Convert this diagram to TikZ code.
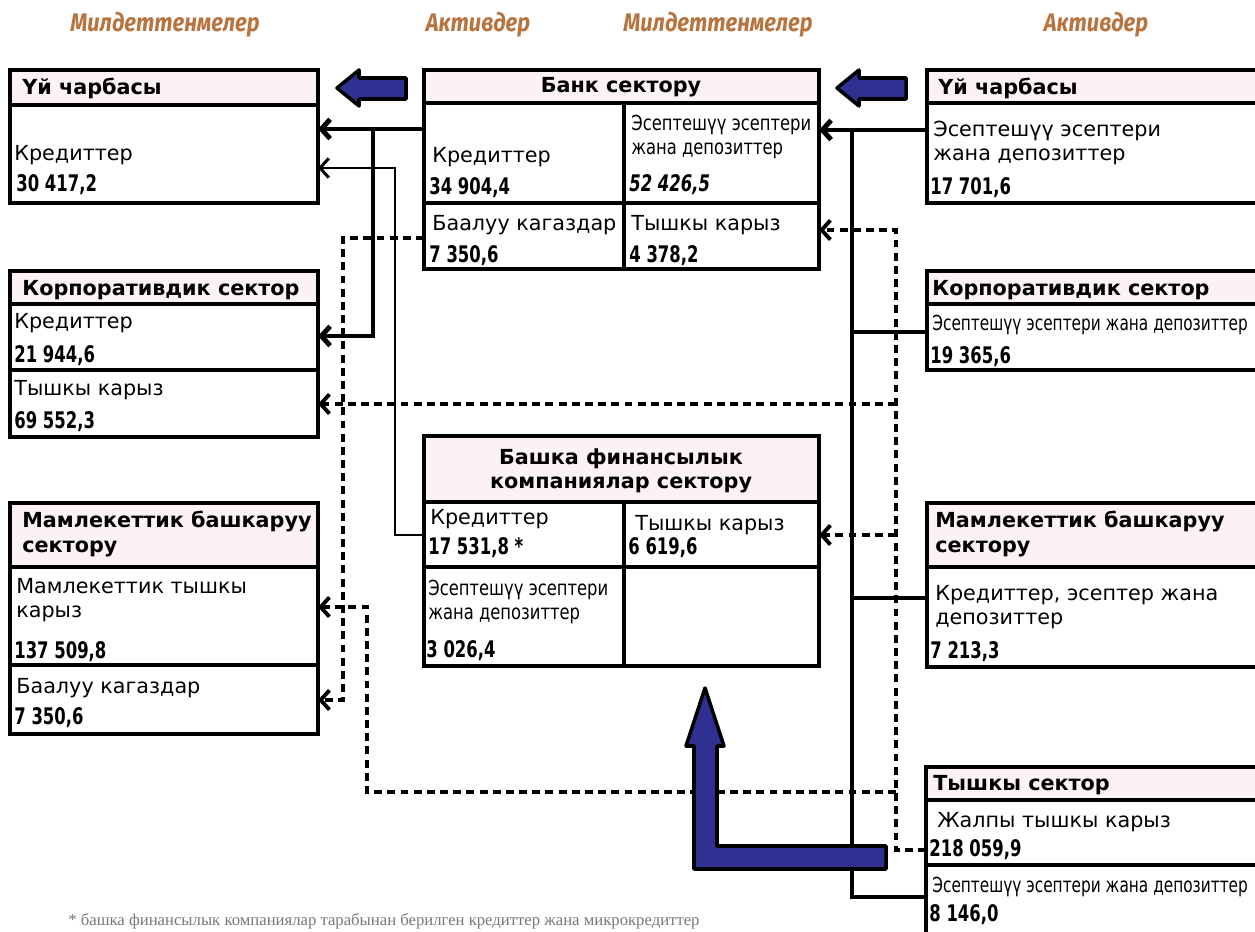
\documentclass[tikz,border=0pt]{standalone}
\usepackage{fontspec}
\setmainfont{DejaVu Sans}
\newfontfamily\condfam[FakeStretch=0.79]{DejaVu Sans}
\newfontfamily\narrowfam[FakeStretch=0.74]{DejaVu Sans}
\newfontfamily\numfam[FakeStretch=0.72]{DejaVu Sans}
\newfontfamily\titlefam[FakeStretch=0.86]{Fira Sans}
\newfontfamily\notefam{Liberation Serif}
\usetikzlibrary{arrows.meta}
\definecolor{titlebrown}{RGB}{184,115,62}
\definecolor{hdrpink}{RGB}{252,242,243}
\definecolor{arrowblue}{RGB}{46,49,146}
\definecolor{notegray}{RGB}{120,120,120}

\begin{document}
\begin{tikzpicture}[x=0.02cm, y=-0.02cm,
  cell/.style 2 args={draw, line width=1.9pt, anchor=north west, inner sep=0pt, outer sep=0pt,
    minimum width=#1*0.02cm, minimum height=#2*0.02cm},
  head/.style 2 args={cell={#1}{#2}, fill=hdrpink},
  lbl/.style={anchor=west, inner sep=0pt, font=\fontsize{11.8}{13.8}\selectfont},
  cnd/.style={lbl, font=\condfam\fontsize{11.8}{13.8}\selectfont},
  nrw/.style={lbl, font=\narrowfam\fontsize{11.8}{13.8}\selectfont},
  hd/.style={lbl, font=\bfseries\fontsize{11.8}{13.8}\selectfont},
  num/.style={lbl, font=\numfam\bfseries\fontsize{13}{15}\selectfont},
  title/.style={inner sep=0pt, text=titlebrown, font=\titlefam\bfseries\itshape\fontsize{14.5}{16}\selectfont},
  arrowend/.style={-{Straight Barb[length=5pt,width=11pt]}},
  heavy/.style={line width=2.8pt},
  light/.style={line width=1.7pt},
  dashline/.style={line width=2.2pt, dash pattern=on 4.5pt off 3pt},
  bluearrow/.style={fill=arrowblue, draw=black, line width=2pt, line join=round}]
\useasboundingbox (0,0) rectangle (1255,932);
\clip (0,0) rectangle (1255,932);

% column titles
\node[title] (tL1) at (165,25) {Милдеттенмелер};
\node[title] (tA1) at (478,25) {Активдер};
\node[title] (tL2) at (718,25) {Милдеттенмелер};
\node[title] (tA2) at (1096,25) {Активдер};

% sector boxes
\node[head={308}{35}] (hhLh) at (10,70) {};
\node[cell={308}{98}] (hhLb) at (10,105) {};

\node[head={395}{33}] (bkH) at (424,70) {};
\node[cell={200}{100}] (bkCr) at (424,103) {};
\node[cell={195}{100}] (bkDp) at (624,103) {};
\node[cell={200}{66}] (bkSc) at (424,203) {};
\node[cell={195}{66}] (bkTk) at (624,203) {};

\node[head={335}{33}] (hhRh) at (927,70) {};
\node[cell={335}{100}] (hhRb) at (927,103) {};

\node[head={308}{33}] (crLh) at (10,271) {};
\node[cell={308}{66}] (crLa) at (10,304) {};
\node[cell={308}{67}] (crLb) at (10,370) {};

\node[head={335}{33}] (crRh) at (927,271) {};
\node[cell={335}{66}] (crRb) at (927,304) {};

\node[head={395}{66}] (bfH) at (424,436) {};
\node[cell={200}{65}] (bfCr) at (424,502) {};
\node[cell={195}{65}] (bfTk) at (624,502) {};
\node[cell={200}{99}] (bfDp) at (424,567) {};
\node[cell={195}{99}] (bfEm) at (624,567) {};

\node[head={308}{64}] (gvLh) at (10,503) {};
\node[cell={308}{98}] (gvLa) at (10,567) {};
\node[cell={308}{69}] (gvLb) at (10,665) {};

\node[head={335}{64}] (gvRh) at (927,503) {};
\node[cell={335}{100}] (gvRb) at (927,567) {};

\node[head={336}{33}] (exH) at (926,767) {};
\node[cell={336}{65}] (exTk) at (926,800) {};
\node[cell={336}{75}] (exDp) at (926,865) {};

% texts
\node[hd] (hhLn) at (22,88) {Үй чарбасы};
\node[lbl] (hhLt) at (14,155) {Кредиттер};
\node[num] (hhLv) at (16,185) {30 417,2};

\node[hd, anchor=center] (bkn) at (621,87) {Банк сектору};
\node[lbl] (bkCrt) at (432,157) {Кредиттер};
\node[num] (bkCrv) at (429,188) {34 904,4};
\node[cnd, align=left] (bkDpt) at (631,137) {Эсептешүү эсептери\\жана депозиттер};
\node[num] (bkDpv) at (629,185) {\itshape 52 426,5};
\node[lbl] (bkSct) at (432,225) {Баалуу кагаздар};
\node[num] (bkScv) at (429,256) {7 350,6};
\node[lbl] (bkTkt) at (631,225) {Тышкы карыз};
\node[num] (bkTkv) at (629,256) {4 378,2};

\node[hd] (hhRn) at (938,88) {Үй чарбасы};
\node[lbl, align=left] (hhRt) at (933,143) {Эсептешүү эсептери\\жана депозиттер};
\node[num] (hhRv) at (930,188) {17 701,6};

\node[hd] (crLn) at (22,290) {Корпоративдик сектор};
\node[lbl] (crLat) at (14,323) {Кредиттер};
\node[num] (crLav) at (14,356) {21 944,6};
\node[lbl] (crLbt) at (14,390) {Тышкы карыз};
\node[num] (crLbv) at (14,422) {69 552,3};

\node[hd] (crRn) at (932,290) {Корпоративдик сектор};
\node[nrw] (crRt) at (932,325) {Эсептешүү эсептери жана депозиттер};
\node[num] (crRv) at (930,357) {19 365,6};

\node[hd, anchor=center, align=center] (bfn) at (621,471) {Башка финансылык\\компаниялар сектору};
\node[lbl] (bfCrt) at (430,519) {Кредиттер};
\node[num] (bfCrv) at (428,548) {17 531,8 *};
\node[lbl] (bfTkt) at (635,525) {Тышкы карыз};
\node[num] (bfTkv) at (628,548) {6 619,6};
\node[cnd, align=left] (bfDpt) at (428,602) {Эсептешүү эсептери\\жана депозиттер};
\node[num] (bfDpv) at (426,651) {3 026,4};

\node[hd, align=left] (gvLn) at (22,534) {Мамлекеттик башкаруу\\сектору};
\node[lbl, align=left] (gvLat) at (16,600) {Мамлекеттик тышкы\\карыз};
\node[num] (gvLav) at (14,652) {137 509,8};
\node[lbl] (gvLbt) at (16,688) {Баалуу кагаздар};
\node[num] (gvLbv) at (14,718) {7 350,6};

\node[hd, align=left] (gvRn) at (935,534) {Мамлекеттик башкаруу\\сектору};
\node[lbl, align=left] (gvRt) at (935,607) {Кредиттер, эсептер жана\\депозиттер};
\node[num] (gvRv) at (930,652) {7 213,3};

\node[hd] (exn) at (933,785) {Тышкы сектор};
\node[lbl] (exTkt) at (937,822) {Жалпы тышкы карыз};
\node[num] (exTkv) at (929,850) {218 059,9};
\node[nrw] (exDpt) at (932,887) {Эсептешүү эсептери жана депозиттер};
\node[num] (exDpv) at (929,915) {8 146,0};

\node[anchor=south west, inner sep=0pt, text=notegray, font=\notefam\fontsize{9.5}{11}\selectfont] (fnote) at (68,929)
  {* башка финансылык компаниялар тарабынан берилген кредиттер жана микрокредиттер};

% bend points of the connectors
\coordinate (cA) at (373,129);
\coordinate (cA2) at (373,336);
\coordinate (cB) at (395,168);
\coordinate (cB2) at (395,535);
\coordinate (cC) at (852,130);
\coordinate (cC2) at (852,897);
\coordinate (cI) at (852,332);
\coordinate (cJ) at (852,598);
\coordinate (cD) at (343,238);
\coordinate (cD2) at (343,700);
\coordinate (cE) at (896,230);
\coordinate (cE2) at (896,850);
\coordinate (cF) at (896,404);
\coordinate (cG) at (896,535);
\coordinate (cH) at (896,792);
\coordinate (cH2) at (367,792);
\coordinate (cH3) at (367,607);

% loans and deposits
\draw[heavy, arrowend] (bkCr.west |- cA) -- (hhLb.east |- cA);
\draw[heavy, arrowend] (cA) |- (crLa.east |- cA2);
\draw[light, arrowend] (bfCr.west |- cB2) -| (cB) -- (hhLb.east |- cB);
\draw[heavy, arrowend] (hhRb.west |- cC) -- (bkDp.east |- cC);
\draw[heavy] (cC) |- (exDp.west |- cC2);
\draw[heavy] (crRb.west |- cI) -- (cI);
\draw[heavy] (gvRb.west |- cJ) -- (cJ);

% securities and external debt
\draw[dashline, arrowend] (bkSc.west |- cD) -- (cD) -- (cD2) -- (gvLb.east |- cD2);
\draw[dashline, arrowend] (exTk.west |- cE2) -| (cE) -- (bkTk.east |- cE);
\draw[dashline, arrowend] (cF) -- (crLb.east |- cF);
\draw[dashline, arrowend] (cG) -- (bfTk.east |- cG);
\draw[dashline, arrowend] (cH) -- (cH2) -- (cH3) -- (gvLa.east |- cH3);

% blue block arrows
\foreach \dx in {0,500}
  \draw[bluearrow, shift={(\dx,0)}] (337,88) -- (359,70) -- (359,78) -- (406,78) -- (406,99)
    -- (359,99) -- (359,106) -- cycle;
\draw[bluearrow] (705,688) -- (724,746) -- (717,746) -- (717,846) -- (886,846) -- (886,869)
  -- (694,869) -- (694,746) -- (686,746) -- cycle;
\end{tikzpicture}
\end{document}
